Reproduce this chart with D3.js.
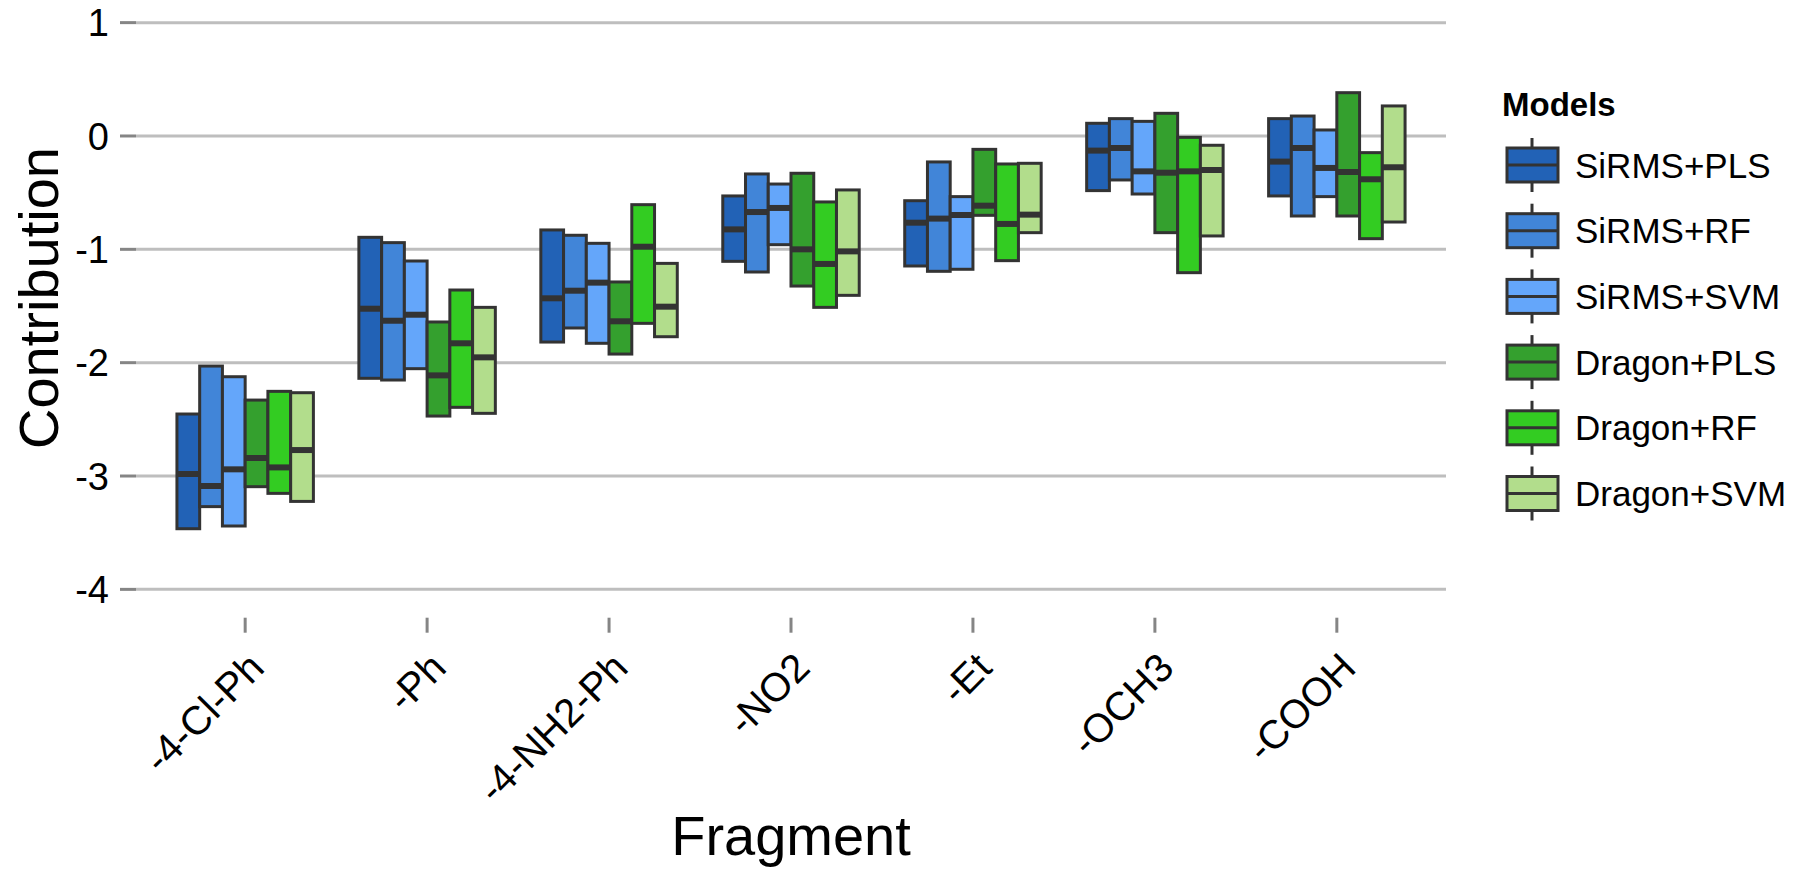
<!DOCTYPE html>
<html>
<head>
<meta charset="utf-8">
<script src="https://cdn.jsdelivr.net/npm/d3@7"></script>
<style>
  body { margin: 0; background: #fff; }
  svg text { font-family: "Liberation Sans", Arial, sans-serif; fill: #000; }
</style>
</head>
<body>
<svg id="chart" width="1806" height="873"></svg>
<script>
// categories and models
var fragments = ["-4-Cl-Ph", "-Ph", "-4-NH2-Ph", "-NO2", "-Et", "-OCH3", "-COOH"]
var models = ["SiRMS+PLS", "SiRMS+RF", "SiRMS+SVM", "Dragon+PLS", "Dragon+RF", "Dragon+SVM"]
var colors = ["#2262b6", "#4185d8", "#64a6fa", "#34a02e", "#33cc22", "#b2dd8c"]
var yTicks = [1, 0, -1, -2, -3, -4]

// box lower edge, one row per model, one value per fragment
var boxLow = [
    [-3.465, -2.138, -1.818, -1.106, -1.147, -0.482, -0.529],
    [-3.270, -2.153, -1.694, -1.200, -1.194, -0.388, -0.706],
    [-3.441, -2.053, -1.829, -0.959, -1.176, -0.512, -0.535],
    [-3.094, -2.471, -1.924, -1.324, -0.700, -0.853, -0.706],
    [-3.153, -2.394, -1.653, -1.512, -1.100, -1.206, -0.906],
    [-3.224, -2.447, -1.771, -1.406, -0.853, -0.882, -0.759]
]
// medians
var boxMid = [
    [-2.982, -1.524, -1.432, -0.824, -0.765, -0.129, -0.226],
    [-3.088, -1.630, -1.365, -0.671, -0.729, -0.106, -0.106],
    [-2.941, -1.577, -1.294, -0.635, -0.697, -0.312, -0.282],
    [-2.841, -2.112, -1.635, -1.000, -0.615, -0.324, -0.318],
    [-2.924, -1.829, -0.977, -1.129, -0.776, -0.312, -0.382],
    [-2.771, -1.953, -1.506, -1.018, -0.694, -0.300, -0.276]
]
// box upper edge
var boxHigh = [
    [-2.453, -0.894, -0.829, -0.529, -0.571, 0.112, 0.153],
    [-2.030, -0.941, -0.876, -0.335, -0.229, 0.153, 0.176],
    [-2.124, -1.103, -0.947, -0.424, -0.535, 0.129, 0.053],
    [-2.330, -1.641, -1.288, -0.329, -0.118, 0.200, 0.382],
    [-2.253, -1.359, -0.606, -0.582, -0.247, -0.012, -0.147],
    [-2.265, -1.512, -1.124, -0.476, -0.241, -0.082, 0.265]
]

var svg = d3.select("#chart")
var panel = {left: 136, right: 1446, top: -5.7, bottom: 617.7}

var x = d3.scalePoint().domain(fragments).range([panel.left, panel.right]).padding(0.6)
var step = x.step()
var xm = d3.scaleBand().domain(models).range([-0.375 * step, 0.375 * step])
var y = d3.scaleLinear().domain([-4.25, 1.25]).range([panel.bottom, panel.top])
var color = d3.scaleOrdinal().domain(models).range(colors)

// grid lines and y ticks
var grid = svg.append("g")
grid.selectAll("line.grid").data(yTicks).enter().append("line")
    .attr("class", "grid")
    .attr("x1", panel.left).attr("x2", panel.right)
    .attr("y1", function(d) { return y(d) }).attr("y2", function(d) { return y(d) })
    .attr("stroke", "#bebebe").attr("stroke-width", 3)
grid.selectAll("line.tick").data(yTicks).enter().append("line")
    .attr("class", "tick")
    .attr("x1", panel.left - 16).attr("x2", panel.left)
    .attr("y1", function(d) { return y(d) }).attr("y2", function(d) { return y(d) })
    .attr("stroke", "#858585").attr("stroke-width", 3)
grid.selectAll("text").data(yTicks).enter().append("text")
    .attr("x", panel.left - 27)
    .attr("y", function(d) { return y(d) })
    .attr("dy", "0.36em")
    .attr("text-anchor", "end")
    .style("font-size", "38px")
    .text(function(d) { return d })

// x ticks and labels
var xa = svg.append("g")
xa.selectAll("line").data(fragments).enter().append("line")
    .attr("x1", function(d) { return x(d) }).attr("x2", function(d) { return x(d) })
    .attr("y1", panel.bottom).attr("y2", panel.bottom + 15)
    .attr("stroke", "#858585").attr("stroke-width", 3)
xa.selectAll("text").data(fragments).enter().append("text")
    .attr("transform", function(d) { return "translate(" + (x(d) + 21) + "," + 670 + ") rotate(-45)" })
    .attr("text-anchor", "end")
    .style("font-size", "40px")
    .text(function(d) { return d })

// boxes
var rows = []
models.forEach(function(m, mi) {
    fragments.forEach(function(f, fi) {
        rows.push({model: m, fragment: f, low: boxLow[mi][fi], mid: boxMid[mi][fi], high: boxHigh[mi][fi]})
    })
})

var boxes = svg.append("g").selectAll("g").data(rows).enter().append("g")
    .attr("transform", function(d) { return "translate(" + (x(d.fragment) + xm(d.model)) + ",0)" })
boxes.append("rect")
    .attr("x", 0).attr("width", xm.bandwidth())
    .attr("y", function(d) { return y(d.high) })
    .attr("height", function(d) { return y(d.low) - y(d.high) })
    .attr("fill", function(d) { return color(d.model) })
    .attr("stroke", "#333").attr("stroke-width", 3)
boxes.append("line")
    .attr("x1", 0).attr("x2", xm.bandwidth())
    .attr("y1", function(d) { return y(d.mid) }).attr("y2", function(d) { return y(d.mid) })
    .attr("stroke", "#333").attr("stroke-width", 6)

// axis titles
svg.append("text")
    .attr("transform", "translate(58," + ((panel.top + panel.bottom) / 2 - 8) + ") rotate(-90)")
    .attr("text-anchor", "middle")
    .style("font-size", "56px")
    .text("Contribution")
svg.append("text")
    .attr("x", (panel.left + panel.right) / 2)
    .attr("y", 855)
    .attr("text-anchor", "middle")
    .style("font-size", "56px")
    .text("Fragment")

// legend
var legend = svg.append("g").attr("transform", "translate(1502,0)")
legend.append("text")
    .attr("x", 0).attr("y", 116)
    .style("font-size", "33px").style("font-weight", "bold")
    .text("Models")
var key = legend.selectAll("g.key").data(models).enter().append("g")
    .attr("class", "key")
    .attr("transform", function(d, i) { return "translate(0," + (165 + i * 65.7) + ")" })
key.append("line")
    .attr("x1", 30).attr("x2", 30).attr("y1", -27).attr("y2", 27)
    .attr("stroke", "#333").attr("stroke-width", 3)
key.append("rect")
    .attr("x", 5).attr("y", -17).attr("width", 51).attr("height", 34)
    .attr("fill", function(d) { return color(d) })
    .attr("stroke", "#333").attr("stroke-width", 3)
key.append("line")
    .attr("x1", 5).attr("x2", 56).attr("y1", 0).attr("y2", 0)
    .attr("stroke", "#333").attr("stroke-width", 3)
key.append("text")
    .attr("x", 73).attr("y", 0).attr("dy", "0.36em")
    .style("font-size", "35px")
    .text(function(d) { return d })
</script>
</body>
</html>
